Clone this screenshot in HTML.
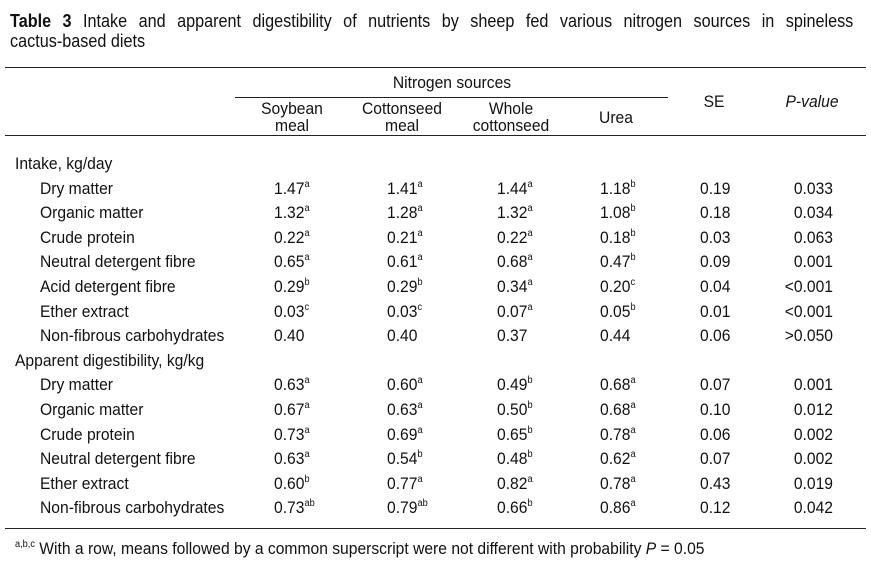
<!DOCTYPE html>
<html><head><meta charset="utf-8">
<style>
body{margin:0;background:#fff;}
#wrap{position:relative;width:871px;height:570px;overflow:hidden;background:#fff;color:#111;font-family:"Liberation Sans",sans-serif;font-size:17px;}
.t{position:absolute;white-space:nowrap;line-height:1;transform-origin:0 0;transform:scaleX(.92);}
.c{text-align:center;transform-origin:50% 0;transform:translateX(-50%) scaleX(.92);}
.r{transform-origin:100% 0;transform:translateX(-100%) scaleX(.92);}
.ln{position:absolute;height:1px;background:#222;}
sup{font-size:10px;vertical-align:7px;line-height:0;}
.title{position:absolute;left:10px;width:937px;font-size:18px;line-height:1;transform-origin:0 0;transform:scaleX(.9);white-space:nowrap;}
</style></head><body>
<div id="wrap">
<div class="title" style="top:12px;white-space:normal;text-align:justify;text-align-last:justify;"><b>Table 3</b> Intake and apparent digestibility of nutrients by sheep fed various nitrogen sources in spineless</div>
<div class="title" style="top:32px;">cactus-based diets</div>
<div class="ln" style="left:5px;top:67px;width:861px;"></div>
<div class="ln" style="left:235px;top:97px;width:433px;"></div>
<div class="ln" style="left:5px;top:135px;width:861px;"></div>
<div class="ln" style="left:5px;top:528px;width:861px;"></div>
<div class="t c" style="left:452px;top:74px;">Nitrogen sources</div>
<div class="t c" style="left:292px;top:100px;line-height:17px;">Soybean<br>meal</div>
<div class="t c" style="left:402px;top:100px;line-height:17px;">Cottonseed<br>meal</div>
<div class="t c" style="left:511px;top:100px;line-height:17px;">Whole<br>cottonseed</div>
<div class="t c" style="left:616px;top:109px;">Urea</div>
<div class="t c" style="left:714px;top:93px;">SE</div>
<div class="t c" style="left:812px;top:93px;font-style:italic;">P-value</div>
<div class="t" style="left:15px;top:540px;"><sup>a,b,c</sup> With a row, means followed by a common superscript were not different with probability <i>P</i> = 0.05</div>
</div>
<script>
const rowLabels=["Intake, kg/day","Dry matter","Organic matter","Crude protein","Neutral detergent fibre","Acid detergent fibre","Ether extract","Non-fibrous carbohydrates","Apparent digestibility, kg/kg","Dry matter","Organic matter","Crude protein","Neutral detergent fibre","Ether extract","Non-fibrous carbohydrates"];
const soybean=["","1.47|a","1.32|a","0.22|a","0.65|a","0.29|b","0.03|c","0.40","","0.63|a","0.67|a","0.73|a","0.63|a","0.60|b","0.73|ab"];
const cottonseed=["","1.41|a","1.28|a","0.21|a","0.61|a","0.29|b","0.03|c","0.40","","0.60|a","0.63|a","0.69|a","0.54|b","0.77|a","0.79|ab"];
const whole=["","1.44|a","1.32|a","0.22|a","0.68|a","0.34|a","0.07|a","0.37","","0.49|b","0.50|b","0.65|b","0.48|b","0.82|a","0.66|b"];
const urea=["","1.18|b","1.08|b","0.18|b","0.47|b","0.20|c","0.05|b","0.44","","0.68|a","0.68|a","0.78|a","0.62|a","0.78|a","0.86|a"];
const se=["","0.19","0.18","0.03","0.09","0.04","0.01","0.06","","0.07","0.10","0.06","0.07","0.43","0.12"];
const pval=["","0.033","0.034","0.063","0.001","<0.001","<0.001",">0.050","","0.001","0.012","0.002","0.002","0.019","0.042"];
const wrap=document.getElementById('wrap');
const cols=[[soybean,274,'soybean'],[cottonseed,387,'cottonseed'],[whole,497,'whole-cottonseed'],[urea,600,'urea'],[se,700,'se']];
function cell(txt,x,y,cls){const d=document.createElement('div');d.className='t'+(cls?' '+cls:'');d.style.left=x+'px';d.style.top=y+'px';
const p=txt.split('|');d.textContent=p[0];if(p[1]){const s=document.createElement('sup');s.textContent=p[1];d.appendChild(s);}wrap.appendChild(d);return d;}
rowLabels.forEach((lab,i)=>{
 const y=155+i*24.6;
 const section=(i===0||i===8);
 const l=cell(lab,section?15:40,y);
 
 
 cols.forEach(c=>{if(c[0][i]){const d=cell(c[0][i],c[1],y);
  
  }});
 if(pval[i]){const d=cell(pval[i],833,y,'r');
  
  }
});
</script>
</body></html>
